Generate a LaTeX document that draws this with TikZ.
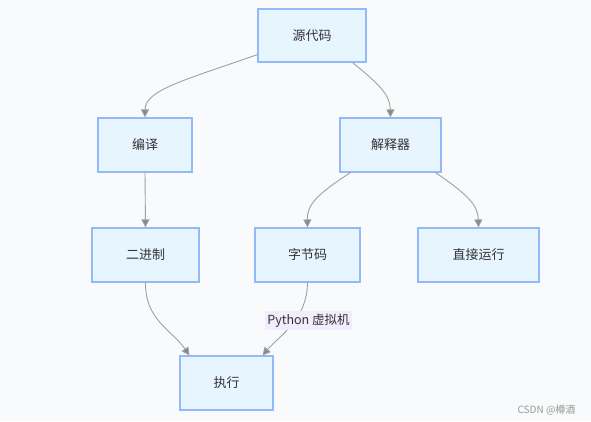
\documentclass[tikz,border=0pt]{standalone}
\usepackage{fontspec}
\setmainfont{Noto Sans CJK SC}
\usetikzlibrary{arrows.meta,calc}
\definecolor{bgc}{RGB}{249,250,251}
\definecolor{nfill}{RGB}{231,245,255}
\definecolor{ndraw}{RGB}{146,186,248}
\definecolor{ntext}{RGB}{51,51,51}
\definecolor{ecol}{RGB}{160,160,160}
\definecolor{lfill}{RGB}{242,236,252}
\tikzset{
  box/.style={draw=ndraw, fill=nfill, line width=1.1pt, text=ntext, inner sep=0pt,
    font=\fontsize{13}{15}\selectfont},
  edge/.style={draw=ecol, line width=0.9pt, -{Triangle[length=8pt,width=8pt,fill=ecol!85!black]}},
  lbl/.style={fill=lfill, text=ntext, inner sep=2.5pt, font=\fontsize{12.5}{14}\selectfont}
}
\begin{document}
\begin{tikzpicture}[x=1pt,y=-1pt]
\fill[bgc] (0,0) rectangle (591,421);
\useasboundingbox (0,0) rectangle (591,421);
\node[box, minimum width=108pt, minimum height=53pt] (src) at (312,35.5) {源代码};
\node[box, minimum width=94pt, minimum height=54pt] (comp) at (145,145) {编译};
\node[box, minimum width=101pt, minimum height=54pt] (interp) at (390.5,145) {解释器};
\node[box, minimum width=107pt, minimum height=54pt] (bin) at (145.5,255) {二进制};
\node[box, minimum width=105pt, minimum height=54pt] (bc) at (307.5,255) {字节码};
\node[box, minimum width=121pt, minimum height=54pt] (run) at (478.5,255) {直接运行};
\node[box, minimum width=93pt, minimum height=54pt] (exec) at (226.5,383) {执行};

\coordinate (s1) at ($(src.south west)+(0,-8)$);
\coordinate (s2) at ($(src.south east)+(-14,0)$);
\coordinate (i1) at ($(interp.south west)+(11,0)$);
\coordinate (i2) at ($(interp.south east)+(-6,0)$);
\coordinate (e1) at ($(exec.north west)+(10,0)$);
\coordinate (e2) at ($(exec.north east)+(-11,0)$);

\draw[edge] (s1) .. controls (185,80) and (145,90) .. (comp.north);
\draw[edge] (s2) .. controls (380,85) and (390,95) .. (interp.north);
\draw[edge] (comp.south) -- (bin.north);
\draw[edge] (i1) .. controls (316,195) and (307,205) .. (bc.north);
\draw[edge] (i2) .. controls (468,195) and (478,205) .. (run.north);
\draw[edge] (bin.south) .. controls (145,320) and (172,330) .. (e1);
\draw[edge] (bc.south) .. controls (307,320) and (280,335) .. (e2);
\node[lbl] (pvm) at (308.5,320.5) {Python 虚拟机};

\node[anchor=east, text=black!40, font=\fontsize{10}{12}\selectfont] (wm) at (579,410) {CSDN @樽酒};
\end{tikzpicture}
\end{document}
